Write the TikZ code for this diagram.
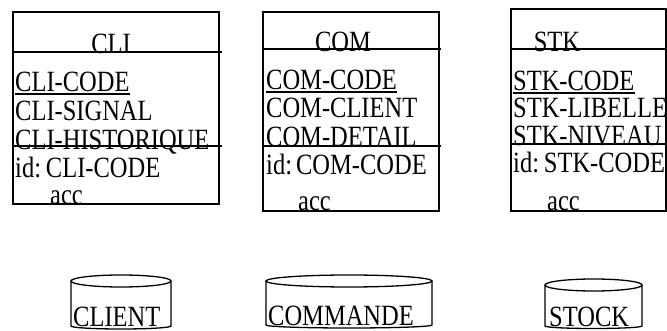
\documentclass[tikz,border=0pt]{standalone}
\usepackage{graphicx}
\usepackage{fontspec}
\setmainfont{Liberation Serif}
\newcommand\vst[1]{\scalebox{1}[1.2]{#1}}
\begin{document}
\begin{tikzpicture}[x=1pt,y=-1pt,
  txt/.style={font=\fontsize{24.5}{24.5}\selectfont, inner sep=0pt, anchor=base west},
  ttl/.style={font=\fontsize{24.5}{24.5}\selectfont, inner sep=0pt, anchor=base},
  frame/.style={draw=black, line width=1.5pt},
  sep/.style={draw=black, line width=1.5pt},
  uline/.style={draw=black, line width=2pt},
  cyl/.style={draw=black, line width=1.3pt}]
\useasboundingbox (0,0) rectangle (667,331);
% ---------- CLI ----------
\draw[frame] (13,12) rectangle (219,204);
\draw[sep] (13,52) -- (222,52);
\draw[sep] (13,146) -- (222,146);
\node[ttl] (cliT) at (111,54) {\vst{CLI}};
\node[txt] (cliA) at (15,92) {\vst{CLI-CODE}};
\node[txt] (cliB) at (15,121) {\vst{CLI-SIGNAL}};
\node[txt] (cliC) at (15,150) {\vst{CLI-HISTORIQUE}};
\node[txt] (cliId) at (15,178) {\vst{id:\hspace{0.2em}CLI-CODE}};
\node[txt] (cliAcc) at (50,205) {\vst{acc}};
\draw[uline] ([yshift=-2.5pt]cliA.base west) -- ([yshift=-2.5pt]cliA.base east);
% ---------- COM ----------
\draw[frame] (263,12) rectangle (439,211);
\draw[sep] (263,49) -- (441,49);
\draw[sep] (263,146) -- (441,146);
\node[ttl] (comT) at (343,52) {\vst{COM}};
\node[txt] (comA) at (266,90) {\vst{COM-CODE}};
\node[txt] (comB) at (266,118) {\vst{COM-CLIENT}};
\node[txt] (comC) at (266,147) {\vst{COM-DETAIL}};
\node[txt] (comId) at (266,175) {\vst{id:\,COM-CODE}};
\node[txt] (comAcc) at (298,211) {\vst{acc}};
\draw[uline] ([yshift=-2.5pt]comA.base west) -- ([yshift=-2.5pt]comA.base east);
% ---------- STK ----------
\draw[frame] (511,9) rectangle (666,211);
\draw[sep] (511,49) -- (667,49);
\draw[sep] (511,144) -- (667,144);
\node[ttl] (stkT) at (557,52) {\vst{STK}};
\node[txt] (stkA) at (513,91) {\vst{STK-CODE}};
\node[txt] (stkB) at (513,118) {\vst{STK-LIBELLE}};
\node[txt] (stkC) at (513,146) {\vst{STK-NIVEAU}};
\node[txt] (stkId) at (513,173) {\vst{id:\hspace{0.2em}STK-CODE}};
\node[txt] (stkAcc) at (547,211) {\vst{acc}};
\draw[uline] ([yshift=-2.5pt]stkA.base west) -- ([yshift=-2.5pt]stkA.base east);
% ---------- cylinders ----------
\draw[cyl] (121,281) ellipse [x radius=50pt, y radius=6pt];
\draw[cyl] (71,281) -- (71,326) arc[start angle=180, end angle=360, x radius=50pt, y radius=3pt] -- (171,281);
\node[txt] (client) at (73,326) {\vst{CLIENT}};
\draw[cyl] (349,281) ellipse [x radius=83pt, y radius=6pt];
\draw[cyl] (266,281) -- (266,325) arc[start angle=180, end angle=360, x radius=83pt, y radius=3pt] -- (432,281);
\node[txt] (commande) at (268,325) {\vst{COMMANDE}};
\draw[cyl] (593.5,285) ellipse [x radius=48.5pt, y radius=6pt];
\draw[cyl] (545,285) -- (545,326) arc[start angle=180, end angle=360, x radius=48.5pt, y radius=2.5pt] -- (642,285);
\node[txt] (stock) at (549,326) {\vst{STOCK}};
\end{tikzpicture}
\end{document}
